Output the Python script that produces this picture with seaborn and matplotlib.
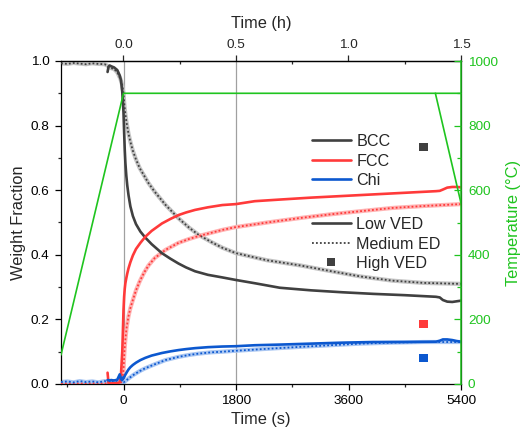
import numpy as np
import pandas as pd
import matplotlib
matplotlib.use("Agg")
import matplotlib.pyplot as plt
import seaborn as sns
from matplotlib.ticker import MultipleLocator, FixedLocator, FormatStrFormatter
from matplotlib.lines import Line2D

# ---------------- data ----------------
# Low VED (solid)
t_low = [-255, -240, -220, -200, -150, -100, -60, -40, -20, -10, 0, 10, 20, 30, 45, 60, 80,
         110, 150, 200, 270, 350, 450, 615, 750, 880, 1000, 1145, 1350, 1580, 1800, 2100,
         2500, 3000, 3500, 4000, 4500, 5000, 5060, 5110, 5180, 5260, 5330, 5400]
bcc_low = [0.966, 0.982, 0.986, 0.984, 0.980, 0.972, 0.955, 0.940, 0.905, 0.875, 0.840, 0.780,
           0.725, 0.685, 0.645, 0.615, 0.585, 0.550, 0.520, 0.495, 0.472, 0.453, 0.433, 0.405,
           0.388, 0.373, 0.361, 0.349, 0.338, 0.330, 0.322, 0.312, 0.298, 0.290, 0.284, 0.279,
           0.275, 0.270, 0.268, 0.260, 0.255, 0.254, 0.256, 0.258]
fcc_low = [0.035, 0.003, 0.002, 0.002, 0.002, 0.003, 0.005, 0.030, 0.100, 0.160, 0.229, 0.270,
           0.295, 0.312, 0.328, 0.342, 0.358, 0.377, 0.398, 0.418, 0.437, 0.456, 0.474, 0.497,
           0.511, 0.523, 0.531, 0.539, 0.547, 0.554, 0.557, 0.566, 0.571, 0.577, 0.582, 0.587,
           0.592, 0.597, 0.598, 0.602, 0.608, 0.610, 0.610, 0.609]
chi_low = [0.012, 0.012, 0.010, 0.012, 0.011, 0.013, 0.030, 0.015, 0.012, 0.020, 0.018, 0.021,
           0.025, 0.029, 0.034, 0.039, 0.045, 0.052, 0.059, 0.066, 0.074, 0.081, 0.088, 0.096,
           0.101, 0.105, 0.108, 0.111, 0.114, 0.116, 0.117, 0.120, 0.122, 0.125, 0.128, 0.130,
           0.130, 0.131, 0.134, 0.138, 0.138, 0.136, 0.133, 0.131]

# Medium ED (dotted)
t_med = [-1000, -900, -800, -700, -600, -500, -400, -300, -255, -200, -150, -100, -50, -20, 0,
         15, 30, 50, 80, 110, 150, 200, 260, 330, 400, 500, 670, 880, 1050, 1200, 1400, 1580,
         1800, 2300, 2830, 3300, 3790, 4300, 4800, 5400]
bcc_med = [0.993, 0.991, 0.994, 0.992, 0.990, 0.993, 0.991, 0.990, 0.985, 0.978, 0.975, 0.965,
           0.945, 0.925, 0.900, 0.862, 0.835, 0.808, 0.775, 0.750, 0.722, 0.695, 0.668, 0.645,
           0.622, 0.595, 0.555, 0.513, 0.484, 0.462, 0.440, 0.422, 0.405, 0.383, 0.367, 0.350,
           0.333, 0.320, 0.313, 0.310]
fcc_med = [0.001, 0.002, 0.001, 0.002, 0.001, 0.002, 0.001, 0.002, 0.002, 0.002, 0.002, 0.002,
           0.003, 0.008, 0.045, 0.100, 0.138, 0.175, 0.210, 0.235, 0.260, 0.290, 0.318, 0.345,
           0.367, 0.390, 0.415, 0.437, 0.449, 0.458, 0.468, 0.477, 0.486, 0.500, 0.514, 0.525,
           0.535, 0.545, 0.551, 0.557]
chi_med = [0.006, 0.008, 0.005, 0.009, 0.006, 0.008, 0.005, 0.009, 0.007, 0.010, 0.008, 0.010,
           0.008, 0.006, 0.005, 0.007, 0.009, 0.012, 0.017, 0.021, 0.027, 0.033, 0.040, 0.047,
           0.053, 0.061, 0.074, 0.084, 0.090, 0.094, 0.098, 0.100, 0.103, 0.109, 0.115, 0.120,
           0.125, 0.128, 0.130, 0.130]

# High VED (squares)
t_high = [4800]
bcc_high = [0.733]
fcc_high = [0.186]
chi_high = [0.080]

# Temperature profile (°C)
t_temp = [-1000, 0, 5400]
temp = [90, 900, 900]
t_cool = [4990, 5400]
temp_cool = [900, 560]

phases = ["BCC", "FCC", "Chi"]
ved_labels = ["Low VED", "Medium ED", "High VED"]

# ---------------- style ----------------
sns.set_theme(style="ticks")
plt.rcParams["font.family"] = ["Liberation Sans", "DejaVu Sans"]

c_bcc, c_fcc, c_chi = "#404040", "#ff3a3a", "#0c58cf"
l_bcc, l_fcc, l_chi = "#c4c4c4", "#ffb3b3", "#a9c6f2"
green = "#1fc41f"

W, H = 523, 434
fig = plt.figure(figsize=(W / 100, H / 100), dpi=100)
ax = fig.add_axes([61 / W, 1 - 384 / H, 400 / W, 323 / H])

ax.axvline(0, color="#a0a0a0", lw=0.9, zorder=0)
ax.axvline(1800, color="#a0a0a0", lw=0.9, zorder=0)

df_low = pd.DataFrame({"t": t_low, "BCC": bcc_low, "FCC": fcc_low, "Chi": chi_low})
df_med = pd.DataFrame({"t": t_med, "BCC": bcc_med, "FCC": fcc_med, "Chi": chi_med})

for ph, cd, cl in zip(phases, [c_bcc, c_fcc, c_chi], [l_bcc, l_fcc, l_chi]):
    sns.lineplot(data=df_med, x="t", y=ph, ax=ax, color=cl, lw=3.0, sort=False,
                 estimator=None, zorder=2)
    sns.lineplot(data=df_med, x="t", y=ph, ax=ax, color=cd, lw=1.3, ls=(0, (1, 1.2)),
                 sort=False, estimator=None, zorder=3)
for ph, cd in zip(phases, [c_bcc, c_fcc, c_chi]):
    sns.lineplot(data=df_low, x="t", y=ph, ax=ax, color=cd, lw=1.9, sort=False,
                 estimator=None, zorder=4)

for vals, cd in zip([bcc_high, fcc_high, chi_high], [c_bcc, c_fcc, c_chi]):
    sns.scatterplot(x=t_high, y=vals, ax=ax, marker="s", s=36, color=cd, edgecolor="none",
                    zorder=5)

ax.set_xlim(-1000, 5400)
ax.set_ylim(0, 1.0)
ax.xaxis.set_major_locator(FixedLocator([0, 1800, 3600, 5400]))
ax.xaxis.set_minor_locator(MultipleLocator(900))
ax.yaxis.set_major_locator(MultipleLocator(0.2))
ax.yaxis.set_minor_locator(MultipleLocator(0.1))
ax.yaxis.set_major_formatter(FormatStrFormatter("%.1f"))
ax.tick_params(axis="both", which="major", direction="out", length=4.3, width=0.9,
               labelsize=9.7, color="black", labelcolor="black")
ax.tick_params(axis="both", which="minor", direction="out", length=2.3, width=0.9)
ax.tick_params(axis="y", which="major", pad=4)
ax.tick_params(axis="x", which="major", pad=3.5)
ax.set_xlabel("Time (s)", fontsize=11.8, labelpad=4)
ax.set_ylabel("Weight Fraction", fontsize=11.8, labelpad=3.5)
for s in ax.spines.values():
    s.set_color("black")
    s.set_linewidth(0.9)

# top hour axis
top = ax.secondary_xaxis("top", functions=(lambda s: s / 3600.0, lambda h: h * 3600.0))
top.xaxis.set_major_locator(FixedLocator([0, 0.5, 1.0, 1.5]))
top.xaxis.set_minor_locator(MultipleLocator(0.25))
top.xaxis.set_major_formatter(FormatStrFormatter("%.1f"))
top.tick_params(which="major", direction="out", length=4.3, width=0.9, labelsize=9.7, pad=3)
top.tick_params(which="minor", direction="in", length=2.5, width=0.9)
top.set_xlabel("Time (h)", fontsize=11.8, labelpad=8)
top.spines["top"].set_linewidth(0.9)

# temperature axis
ax2 = ax.twinx()
df_t = pd.DataFrame({"t": t_temp, "T": temp})
df_c = pd.DataFrame({"t": t_cool, "T": temp_cool})
sns.lineplot(data=df_t, x="t", y="T", ax=ax2, color=green, lw=1.2, sort=False, estimator=None)
sns.lineplot(data=df_c, x="t", y="T", ax=ax2, color=green, lw=1.2, sort=False, estimator=None)
ax2.set_ylim(0, 1000)
ax2.set_xlim(-1000, 5400)
ax2.yaxis.set_major_locator(MultipleLocator(200))
ax2.yaxis.set_minor_locator(MultipleLocator(100))
ax2.tick_params(axis="y", which="major", direction="in", length=5, width=0.9, color=green,
                labelcolor=green, labelsize=9.7, pad=5)
ax2.tick_params(axis="y", which="minor", direction="in", length=3, width=0.9, color=green)
ax2.set_ylabel("Temperature (°C)", fontsize=11.8, color=green, labelpad=6)
ax2.set_xlabel("")
ax2.spines["right"].set_color(green)
ax2.spines["right"].set_linewidth(1.1)
for k in ["left", "top", "bottom"]:
    ax2.spines[k].set_visible(False)

# legends
h1 = [Line2D([], [], color=c, lw=1.9) for c in [c_bcc, c_fcc, c_chi]]
leg1 = fig.legend(h1, phases, loc="upper left", bbox_to_anchor=(312 / W, 1 - 134 / H),
                  frameon=False, fontsize=11.6, handlelength=2.4, handletextpad=0.35,
                  labelspacing=0.28, borderpad=0, borderaxespad=0)
h2 = [Line2D([], [], color=c_bcc, lw=1.9),
      Line2D([], [], color=c_bcc, lw=1.3, ls=(0, (1, 1.2))),
      Line2D([], [], color=c_bcc, lw=0, marker="s", markersize=6, markeredgewidth=0)]
leg2 = fig.legend(h2, ved_labels, loc="upper left", bbox_to_anchor=(312 / W, 1 - 217 / H),
                  frameon=False, fontsize=11.6, handlelength=2.4, handletextpad=0.35,
                  labelspacing=0.28, borderpad=0, borderaxespad=0)

fig.savefig("out.png", dpi=100)
